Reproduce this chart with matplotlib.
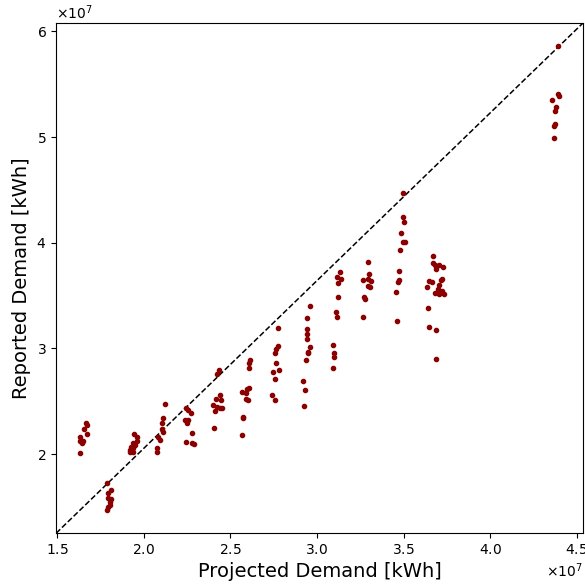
import numpy as np
import matplotlib
matplotlib.use("Agg")
import matplotlib.pyplot as plt

# values in units of 1e7 kWh
projected = [
    1.667, 1.675, 1.656, 1.633, 1.675, 1.634, 1.650, 1.643, 1.634,
    1.787, 1.810, 1.796, 1.812, 1.793, 1.806, 1.793, 1.790, 1.806,
    1.944, 1.960, 1.960, 1.937, 1.950, 1.927, 1.940, 1.921, 1.937, 1.921,
    2.123, 2.113, 2.108, 2.104, 2.113, 2.085, 2.094, 2.079, 2.075,
    2.244, 2.258, 2.272, 2.239, 2.258, 2.248, 2.281, 2.244, 2.277, 2.291,
    2.435, 2.425, 2.441, 2.417, 2.445, 2.398, 2.422, 2.441, 2.454, 2.412, 2.408,
    2.614, 2.610, 2.606, 2.610, 2.595, 2.568, 2.589, 2.589, 2.600, 2.575, 2.569, 2.571,
    2.777, 2.777, 2.764, 2.758, 2.765, 2.781, 2.748, 2.758, 2.742, 2.758,
    2.958, 2.941, 2.944, 2.944, 2.941, 2.958, 2.947, 2.950, 2.937, 2.919, 2.931, 2.924,
    3.133, 3.117, 3.139, 3.123, 3.123, 3.112, 3.114, 3.091, 3.100, 3.097, 3.094,
    3.293, 3.299, 3.267, 3.295, 3.312, 3.293, 3.306, 3.273, 3.277, 3.267,
    3.497, 3.498, 3.502, 3.485, 3.498, 3.506, 3.479, 3.473, 3.475, 3.469, 3.458, 3.460,
    3.668, 3.668, 3.681, 3.685, 3.706, 3.726, 3.722, 3.714, 3.647, 3.662, 3.706,
    3.637, 3.700, 3.723, 3.683, 3.703, 3.731, 3.643, 3.645, 3.685, 3.687,
    4.393, 4.393, 4.399, 4.358, 4.381, 4.374, 4.372, 4.368, 4.368,
]
reported = [
    2.292, 2.276, 2.242, 2.167, 2.189, 2.120, 2.120, 2.110, 2.009,
    1.726, 1.663, 1.632, 1.575, 1.585, 1.519, 1.500, 1.472, 1.547,
    2.195, 2.167, 2.125, 2.110, 2.085, 2.069, 2.054, 2.041, 2.025, 2.016,
    2.472, 2.340, 2.299, 2.242, 2.214, 2.163, 2.135, 2.057, 2.025,
    2.441, 2.415, 2.393, 2.324, 2.324, 2.299, 2.198, 2.116, 2.110, 2.094,
    2.792, 2.755, 2.557, 2.525, 2.509, 2.462, 2.443, 2.441, 2.437, 2.408, 2.252,
    2.890, 2.865, 2.811, 2.629, 2.613, 2.592, 2.575, 2.519, 2.512, 2.356, 2.182, 2.340,
    3.195, 3.022, 2.991, 2.959, 2.865, 2.795, 2.780, 2.714, 2.557, 2.509,
    3.399, 3.286, 3.186, 3.139, 3.085, 3.012, 2.969, 2.953, 2.893, 2.692, 2.610, 2.456,
    3.720, 3.673, 3.660, 3.616, 3.484, 3.346, 3.295, 3.028, 2.959, 2.918, 2.814,
    3.821, 3.705, 3.651, 3.658, 3.635, 3.594, 3.582, 3.488, 3.472, 3.302,
    4.469, 4.239, 4.192, 4.092, 4.003, 4.007, 3.927, 3.729, 3.644, 3.632, 3.538, 3.261,
    3.877, 3.808, 3.792, 3.755, 3.792, 3.771, 3.660, 3.644, 3.635, 3.625, 3.604,
    3.578, 3.566, 3.547, 3.525, 3.519, 3.512, 3.384, 3.201, 3.173, 2.896,
    5.861, 5.403, 5.390, 5.352, 5.280, 5.245, 5.123, 5.104, 4.988,
]

x = np.array(projected) * 1e7
y = np.array(reported) * 1e7

fig = plt.figure(figsize=(5.85, 5.84), dpi=100)
ax = fig.add_axes([0.096, 0.087, 0.901, 0.874])

ax.scatter(x, y, s=9, color="darkred", zorder=3)

# dashed line corner to corner of the auto limits
xl = ax.get_xlim()
yl = ax.get_ylim()
ax.plot(xl, yl, "k--", lw=1.1)
ax.set_xlim(xl)
ax.set_ylim(yl)

ax.ticklabel_format(useMathText=True)
ax.set_xlabel("Projected Demand [kWh]", fontsize=14)
ax.set_ylabel("Reported Demand [kWh]", fontsize=14)
ax.tick_params(labelsize=10)

fig.savefig("out.png", dpi=100)
